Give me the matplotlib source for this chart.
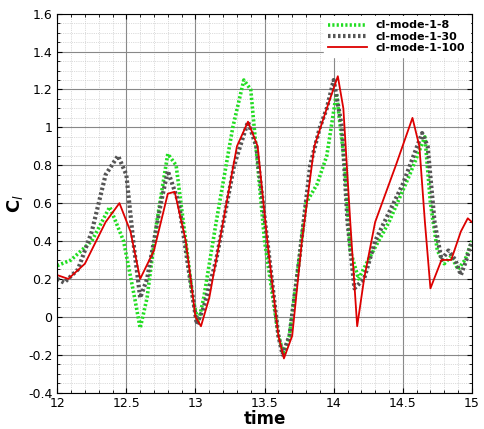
import numpy as np
import matplotlib.pyplot as plt
from matplotlib.ticker import MultipleLocator

t8 = [12.0, 12.1, 12.25, 12.38, 12.48, 12.56, 12.6, 12.65, 12.72, 12.8, 12.86, 12.93, 12.98, 13.02,
      13.06, 13.15, 13.27, 13.35, 13.4, 13.45, 13.5, 13.55, 13.6, 13.64, 13.68, 13.75, 13.8, 13.88,
      13.95, 14.02, 14.08, 14.12, 14.18, 14.25, 14.4, 14.55, 14.66, 14.7, 14.75, 14.8, 14.85, 14.9,
      14.95, 15.0]
cl8 = [0.27, 0.3, 0.4, 0.58, 0.4, 0.1, -0.06, 0.1, 0.5, 0.86, 0.8, 0.4, 0.1, -0.03,
       0.1, 0.5, 1.0, 1.25, 1.2, 0.8, 0.4, 0.15, -0.1, -0.2, -0.1, 0.3, 0.6, 0.7,
       0.85, 1.18, 0.8, 0.35, 0.2, 0.3, 0.5, 0.75, 0.95, 0.6, 0.35, 0.28, 0.32, 0.25,
       0.3, 0.4]

t30 = [12.0, 12.05, 12.15, 12.25, 12.35, 12.44, 12.5, 12.55, 12.6, 12.65, 12.75, 12.8, 12.88, 12.94,
       13.01, 13.06, 13.15, 13.28, 13.38, 13.44, 13.52, 13.6, 13.63, 13.68, 13.75, 13.83, 13.9, 13.95,
       14.0, 14.06, 14.1, 14.15, 14.22, 14.3, 14.5, 14.64, 14.68, 14.73, 14.78, 14.83, 14.88, 14.92,
       14.96, 15.0]
cl30 = [0.2, 0.18, 0.25, 0.45, 0.75, 0.85, 0.75, 0.4, 0.1, 0.2, 0.6, 0.77, 0.6, 0.3,
        -0.04, 0.05, 0.3, 0.8, 1.03, 0.9, 0.4, -0.1, -0.2, -0.1, 0.3, 0.8, 1.0, 1.1,
        1.25, 1.0, 0.5, 0.15, 0.2, 0.4, 0.7, 0.97, 0.9, 0.5, 0.3, 0.35, 0.3, 0.22,
        0.3, 0.4]

t100 = [12.0, 12.08, 12.2, 12.35, 12.45, 12.53, 12.6, 12.7, 12.8, 12.85, 12.93, 13.0, 13.04, 13.1,
        13.2, 13.3, 13.38, 13.45, 13.52, 13.6, 13.64, 13.7, 13.77, 13.86, 13.95, 14.03, 14.07, 14.12,
        14.17, 14.22, 14.3, 14.45, 14.57, 14.62, 14.66, 14.7, 14.78, 14.85, 14.92, 14.97, 15.0]
cl100 = [0.22, 0.2, 0.28, 0.5, 0.6, 0.45, 0.2, 0.35, 0.65, 0.66, 0.4, 0.0, -0.05, 0.1,
         0.5, 0.9, 1.03, 0.9, 0.4, -0.1, -0.22, -0.1, 0.4, 0.9, 1.1, 1.27, 1.1, 0.5,
         -0.05, 0.2, 0.5, 0.8, 1.05, 0.9, 0.5, 0.15, 0.3, 0.3, 0.45, 0.52, 0.5]

fig = plt.figure(figsize=(4.85, 4.29), dpi=100)
ax = fig.add_axes([0.118, 0.085, 0.855, 0.883])
ax.plot(t8, cl8, color="#22dd22", ls=(0, (0.6, 0.6)), lw=2.6, label="cl-mode-1-8")
ax.plot(t30, cl30, color="#555555", ls=(0, (0.6, 0.6)), lw=3.0, label="cl-mode-1-30")
ax.plot(t100, cl100, color="#dd0000", lw=1.3, label="cl-mode-1-100")

ax.set_xlim(12, 15)
ax.set_ylim(-0.4, 1.6)
ax.xaxis.set_minor_locator(MultipleLocator(0.1))
ax.yaxis.set_minor_locator(MultipleLocator(0.05))
ax.set_xticks([12, 12.5, 13, 13.5, 14, 14.5, 15])
ax.set_xticklabels(["12", "12.5", "13", "13.5", "14", "14.5", "15"])
ax.set_yticks(np.arange(-0.4, 1.61, 0.2))
ax.set_yticklabels(["-0.4", "-0.2", "0", "0.2", "0.4", "0.6", "0.8", "1", "1.2", "1.4", "1.6"])
ax.grid(True, which="major", color="#888888", lw=0.8)
ax.grid(True, which="minor", color="#bbbbbb", lw=0.5, ls=":")
ax.tick_params(which="both", direction="in", top=True, right=True, labelsize=9)
ax.set_xlabel("time", fontsize=12, fontweight="bold", labelpad=0)
ax.set_ylabel("C$_l$", fontsize=13, fontweight="bold", labelpad=2)
leg = ax.legend(loc="upper right", fontsize=8, frameon=True, fancybox=False, edgecolor="white",
                framealpha=1, handlelength=3.5, borderaxespad=0.2, labelspacing=0.1)
for txt in leg.get_texts():
    txt.set_fontweight("bold")
fig.savefig("out.png", dpi=100)
